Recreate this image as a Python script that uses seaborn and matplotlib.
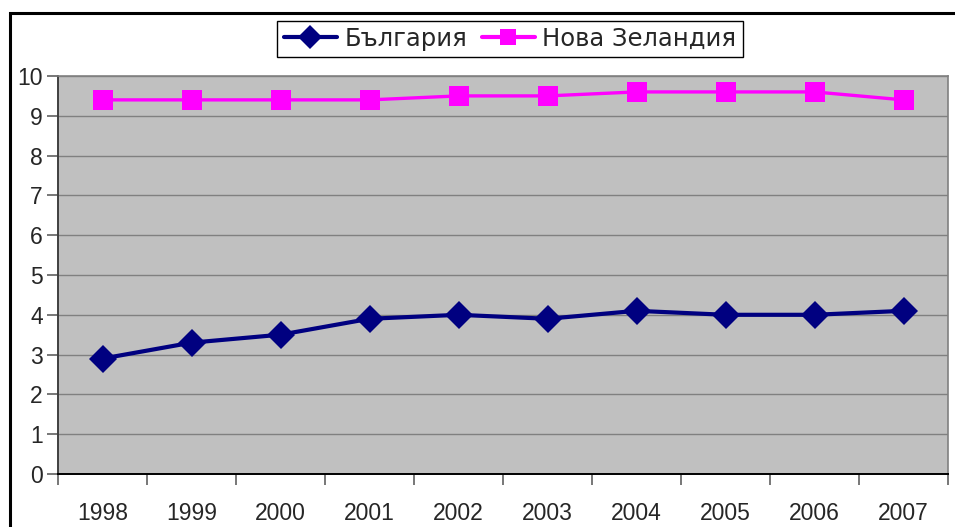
import matplotlib
matplotlib.use("Agg")
import matplotlib.pyplot as plt
import seaborn as sns
import pandas as pd
from matplotlib.patches import Rectangle
from matplotlib.ticker import FixedLocator, NullFormatter

years = ["1998", "1999", "2000", "2001", "2002", "2003", "2004", "2005", "2006", "2007"]
bulgaria = [2.9, 3.3, 3.5, 3.9, 4.0, 3.9, 4.1, 4.0, 4.0, 4.1]
new_zealand = [9.4, 9.4, 9.4, 9.4, 9.5, 9.5, 9.6, 9.6, 9.6, 9.4]
series_names = ["България", "Нова Зеландия"]

df = pd.DataFrame({
    "year": years * 2,
    "value": bulgaria + new_zealand,
    "series": [series_names[0]] * len(years) + [series_names[1]] * len(years),
})

sns.set_style("white")
plt.rcParams['font.family'] = ['Liberation Sans', 'DejaVu Sans']

W, H = 955, 527
fig = plt.figure(figsize=(W / 100, H / 100), dpi=100)
fig.patch.set_facecolor("white")
ax = fig.add_axes([58 / W, 1 - 474 / H, 890 / W, 398 / H])
ax.set_facecolor("#C0C0C0")

palette = {series_names[0]: "#000080", series_names[1]: "#FF00FF"}
markers = {series_names[0]: "D", series_names[1]: "s"}
sns.lineplot(data=df, x="year", y="value", hue="series", style="series",
             palette=palette, markers=markers, dashes=False, sort=False,
             markersize=14, markeredgewidth=0, ax=ax, legend=False)
for ln, lw in zip(ax.lines, [3.0, 2.4]):
    ln.set_linewidth(lw)
    ln.set_solid_joinstyle("round")

ax.set_xlim(-0.5, len(years) - 0.5)
ax.set_ylim(0, 10)
ax.set_yticks(range(0, 11))
ax.yaxis.grid(True, color="#808080", linewidth=1)
ax.xaxis.grid(False)
ax.set_xticks(range(len(years)))
ax.set_xticklabels(years)
ax.xaxis.set_minor_locator(FixedLocator([i - 0.5 for i in range(len(years) + 1)]))
ax.xaxis.set_minor_formatter(NullFormatter())
ax.tick_params(axis="x", which="major", length=0, pad=20, labelsize=16.5)
ax.tick_params(axis="x", which="minor", length=8, width=1.2, color="#606060", direction="out", bottom=True)
ax.tick_params(axis="y", which="major", length=8, width=1.2, color="#606060", direction="out", left=True, labelsize=16.5, pad=3)
ax.set_xlabel("")
ax.set_ylabel("")
for s in ["top", "right"]:
    ax.spines[s].set_color("#808080")
    ax.spines[s].set_linewidth(1.2)
ax.spines["left"].set_color("#404040")
ax.spines["left"].set_linewidth(1.4)
ax.spines["bottom"].set_color("black")
ax.spines["bottom"].set_linewidth(1.4)

handles = [plt.Line2D([], [], color=palette[n], marker=markers[n], markersize=12 if n == series_names[0] else 11,
                      markeredgewidth=0, linewidth=3) for n in series_names]
leg = fig.legend(handles, series_names, loc="center", bbox_to_anchor=(510 / W, 1 - 39 / H),
                 ncol=2, frameon=True, fancybox=False, edgecolor="black", framealpha=1,
                 prop={"family": "DejaVu Sans", "size": 17.5}, handlelength=2.2, handletextpad=0.3,
                 columnspacing=0.6, borderpad=0.25, borderaxespad=0)
leg.get_frame().set_linewidth(1.0)
for t in leg.get_texts():
    t.set_text(t.get_text())

fig.patches.append(Rectangle((10 / W, -0.1), 1.2, 1 - 13 / H + 0.1, transform=fig.transFigure,
                             fill=False, edgecolor="black", linewidth=2.2, zorder=0))

fig.savefig("out.png", dpi=100)
